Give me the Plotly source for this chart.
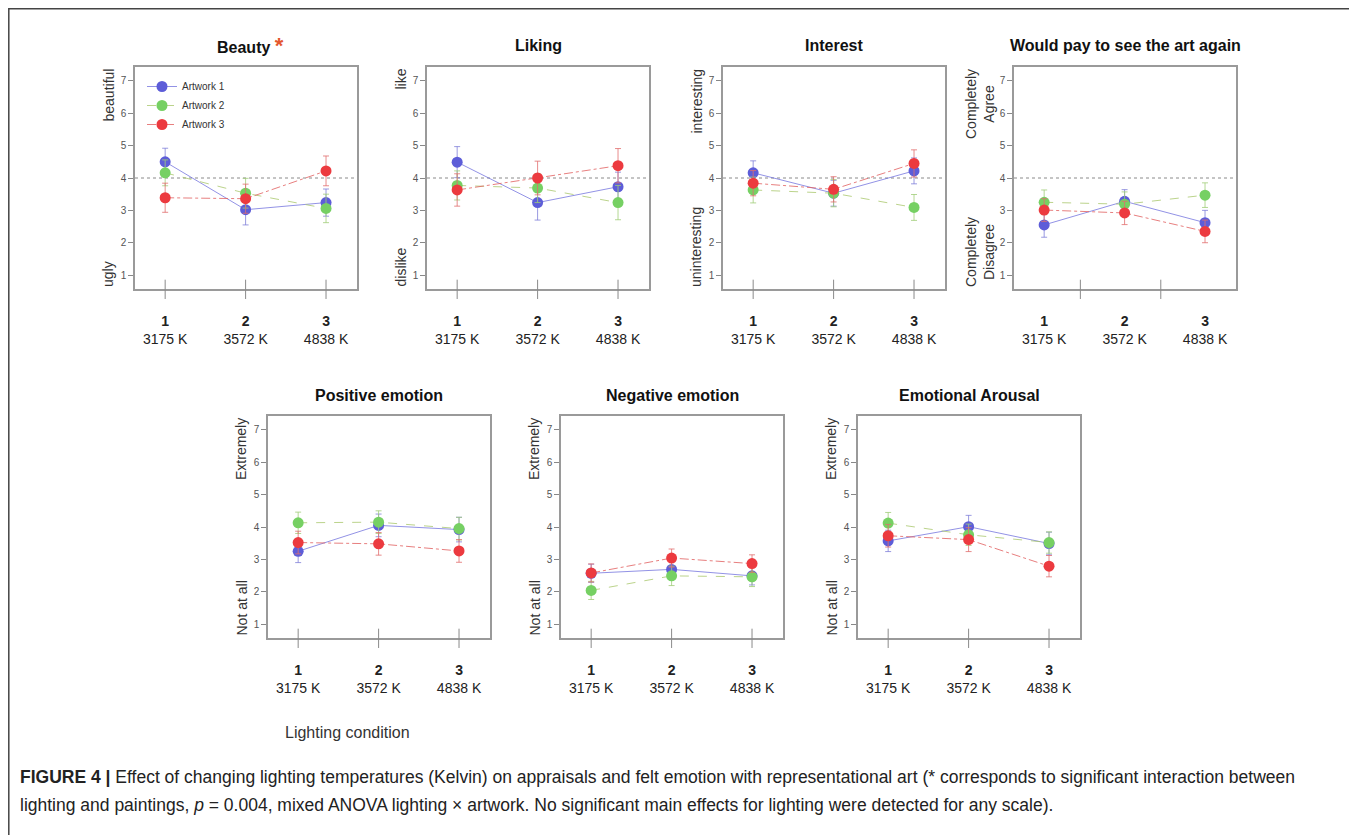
import plotly.graph_objects as go

# the page body adds an 8px margin; lay out in page pixels and convert
OFF = 8
FW, FH = 1349, 827

# ---------------- data ----------------
conditions = [1, 2, 3]
condition_names = ["1", "2", "3"]
kelvin_labels = ["3175 K", "3572 K", "4838 K"]
artworks = ["Artwork 1", "Artwork 2", "Artwork 3"]

panel_titles = ["Beauty", "Liking", "Interest", "Would pay to see the art again",
                "Positive emotion", "Negative emotion", "Emotional Arousal"]
top_labels = ["beautiful", "like", "interesting", "Completely<br>Agree",
              "Extremely", "Extremely", "Extremely"]
bottom_labels = ["ugly", "dislike", "uninteresting", "Completely<br>Disagree",
                 "Not at all", "Not at all", "Not at all"]

beauty_mean = [[4.50, 3.02, 3.24], [4.16, 3.53, 3.06], [3.39, 3.36, 4.22]]
beauty_err = [[0.42, 0.47, 0.42], [0.40, 0.46, 0.44], [0.45, 0.45, 0.46]]

liking_mean = [[4.49, 3.24, 3.73], [3.77, 3.69, 3.24], [3.63, 4.00, 4.38]]
liking_err = [[0.48, 0.54, 0.45], [0.45, 0.45, 0.53], [0.50, 0.52, 0.53]]

interest_mean = [[4.16, 3.53, 4.22], [3.63, 3.53, 3.09], [3.84, 3.65, 4.45]]
interest_err = [[0.37, 0.40, 0.40], [0.40, 0.42, 0.40], [0.39, 0.39, 0.42]]

pay_mean = [[2.55, 3.28, 2.62], [3.25, 3.19, 3.47], [3.01, 2.92, 2.35]]
pay_err = [[0.38, 0.36, 0.38], [0.38, 0.38, 0.38], [0.35, 0.36, 0.35]]

positive_mean = [[3.25, 4.05, 3.92], [4.13, 4.15, 3.95], [3.52, 3.48, 3.26]]
positive_err = [[0.35, 0.35, 0.38], [0.33, 0.35, 0.35], [0.35, 0.35, 0.35]]

negative_mean = [[2.57, 2.69, 2.49], [2.04, 2.49, 2.46], [2.58, 3.04, 2.87]]
negative_err = [[0.28, 0.30, 0.28], [0.28, 0.30, 0.30], [0.28, 0.28, 0.27]]

arousal_mean = [[3.57, 4.01, 3.49], [4.12, 3.76, 3.52], [3.73, 3.61, 2.79]]
arousal_err = [[0.33, 0.35, 0.35], [0.33, 0.33, 0.33], [0.35, 0.37, 0.33]]

scale_midpoint = 4
y_ticks = [1, 2, 3, 4, 5, 6, 7]

# ---------------- styling / layout ----------------
means = [beauty_mean, liking_mean, interest_mean, pay_mean,
         positive_mean, negative_mean, arousal_mean]
errs = [beauty_err, liking_err, interest_err, pay_err,
        positive_err, negative_err, arousal_err]

marker_colors = ["#5d5dd8", "#76d063", "#ec3a3f"]
line_colors = ["rgba(110,110,220,0.75)", "rgba(170,200,110,0.8)", "rgba(225,95,95,0.8)"]
err_colors = ["rgba(120,120,215,0.75)", "rgba(160,205,120,0.8)", "rgba(225,110,110,0.8)"]
dashes = ["solid", "dash", "dashdot"]


def px(x):
    return (x - OFF) / FW


def py(y):
    return 1 - (y - OFF) / FH


# panel boxes in page pixels: (left, top)
PW, PH = 222, 222
boxes = [(135, 67), (427, 67), (723, 67), (1014, 67),
         (268, 416), (561, 416), (858, 416)]
xr = [0.625, 3.385]
yr = [0.57, 7.43]

FONT = "Liberation Sans, Arial, Helvetica, sans-serif"

fig = go.Figure()
shapes = []
annotations = []
layout = {}

for p in range(7):
    k = p + 1
    xs = "" if k == 1 else str(k)
    left, top = boxes[p]
    layout[f"xaxis{xs}"] = dict(
        domain=[px(left), px(left + PW)], range=xr, anchor=f"y{xs}",
        tickmode="array", tickvals=conditions,
        ticktext=[f"<b>{c}</b><br>{kl}" for c, kl in zip(condition_names, kelvin_labels)],
        tickfont=dict(size=14, color="#222", family=FONT),
        ticks="outside", ticklen=18, tickcolor="rgba(0,0,0,0)",
        showline=True, mirror=True, linecolor="#9a9a9a", linewidth=1.5,
        showgrid=False, zeroline=False,
    )
    layout[f"yaxis{xs}"] = dict(
        domain=[py(top + PH), py(top)], range=yr, anchor=f"x{xs}",
        tickmode="array", tickvals=y_ticks,
        tickfont=dict(size=10, color="#555", family=FONT),
        ticks="outside", ticklen=5, tickcolor="#888", tickwidth=1,
        showline=True, mirror=True, linecolor="#9a9a9a", linewidth=1.5,
        showgrid=False, zeroline=False,
    )
    for j in range(3):
        fig.add_trace(go.Scatter(
            x=conditions, y=means[p][j], name=artworks[j],
            xaxis=f"x{xs}", yaxis=f"y{xs}",
            mode="lines+markers",
            line=dict(color=line_colors[j], width=1, dash=dashes[j]),
            marker=dict(size=11, color=marker_colors[j]),
            error_y=dict(type="data", array=errs[p][j], color=err_colors[j],
                         thickness=1, width=3),
            legendgroup=artworks[j], showlegend=(p == 0),
        ))
    # reference line at the scale midpoint (top row only)
    if p < 4:
        shapes.append(dict(type="line", xref=f"x{xs} domain", x0=0, x1=1,
                           yref=f"y{xs}", y0=scale_midpoint, y1=scale_midpoint,
                           line=dict(color="#8a8a8a", width=1, dash="dot"), layer="below"))
    # x tick marks crossing the bottom frame (last panel's ticks are offset in original)
    offset = 0.45 if p == 3 else 0.0
    for c in conditions:
        shapes.append(dict(type="line", xref=f"x{xs}", x0=c + offset, x1=c + offset,
                           yref=f"y{xs} domain", y0=-0.045, y1=0.042,
                           line=dict(color="#8a8a8a", width=1)))
    # titles
    title_text = f"<b>{panel_titles[p]}</b>"
    if p == 0:
        title_text += " <span style='color:#e4572e;font-size:22px'><b>*</b></span>"
    annotations.append(dict(
        text=title_text, xref="paper", yref="paper",
        x=px(left + PW / 2 + (4 if p == 0 else 0)), y=py(top - 21),
        xanchor="center", yanchor="middle", showarrow=False,
        font=dict(size=16, color="#111", family=FONT)))
    # y-axis anchor words
    lab_x = px(left - (34 if p == 3 else 27))
    annotations.append(dict(
        text=top_labels[p], xref="paper", yref=f"y{xs} domain",
        x=lab_x, y=1, xanchor="center", yanchor="top", textangle=-90,
        showarrow=False, font=dict(size=14, color="#333", family=FONT)))
    annotations.append(dict(
        text=bottom_labels[p], xref="paper", yref=f"y{xs} domain",
        x=lab_x, y=0, xanchor="center", yanchor="bottom", textangle=-90,
        showarrow=False, font=dict(size=14, color="#333", family=FONT)))

annotations.append(dict(
    text="Lighting condition", xref="paper", yref="paper",
    x=px(283), y=py(732), xanchor="left", yanchor="middle", showarrow=False,
    font=dict(size=16, color="#333", family=FONT)))

annotations.append(dict(
    text="<b>FIGURE 4 |</b> Effect of changing lighting temperatures (Kelvin) on appraisals and felt "
         "emotion with representational art (* corresponds to significant interaction between",
    xref="paper", yref="paper", x=px(18), y=py(777), xanchor="left", yanchor="middle",
    showarrow=False, font=dict(size=17.5, color="#222", family=FONT)))
annotations.append(dict(
    text="lighting and paintings, <i>p</i> = 0.004, mixed ANOVA lighting \u00d7 artwork. No significant "
         "main effects for lighting were detected for any scale).",
    xref="paper", yref="paper", x=px(18), y=py(805), xanchor="left", yanchor="middle",
    showarrow=False, font=dict(size=17.5, color="#222", family=FONT)))

# outer frame
shapes.append(dict(type="rect", xref="paper", yref="paper",
                   x0=px(8.8), x1=px(1352), y0=-0.02, y1=py(8.8),
                   line=dict(color="#444", width=1.5)))

fig.update_layout(
    width=FW, height=FH, margin=dict(l=0, r=0, t=0, b=0),
    paper_bgcolor="white", plot_bgcolor="white",
    font=dict(family=FONT),
    shapes=shapes, annotations=annotations,
    legend=dict(x=px(142), y=py(72), xanchor="left", yanchor="top",
                bgcolor="rgba(0,0,0,0)", font=dict(size=10, color="#333", family=FONT),
                itemwidth=30, tracegroupgap=0),
    **layout,
)

fig.write_html("out.html")
